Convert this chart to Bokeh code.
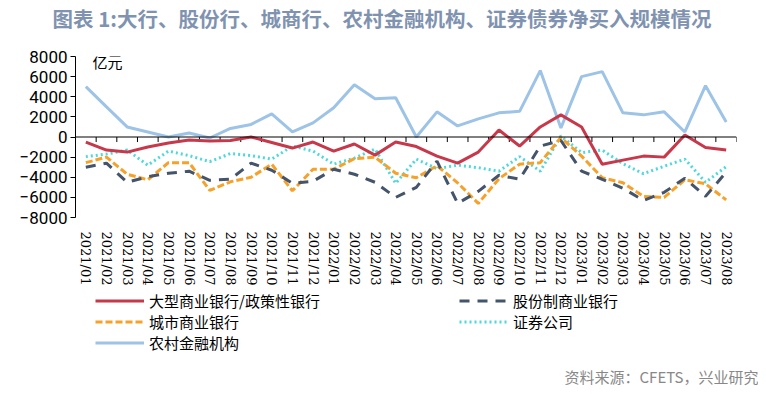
import numpy as np
from bokeh.plotting import figure
from bokeh.layouts import column
from bokeh.models import (Range1d, FixedTicker, Legend, LegendItem, Label, Span, Title)
from bokeh.embed import file_html
from bokeh.resources import INLINE

months = ["2021/01", "2021/02", "2021/03", "2021/04", "2021/05", "2021/06",
          "2021/07", "2021/08", "2021/09", "2021/10", "2021/11", "2021/12",
          "2022/01", "2022/02", "2022/03", "2022/04", "2022/05", "2022/06",
          "2022/07", "2022/08", "2022/09", "2022/10", "2022/11", "2022/12",
          "2023/01", "2023/02", "2023/03", "2023/04", "2023/05", "2023/06",
          "2023/07", "2023/08"]

big_banks = [-500, -1300, -1500, -1000, -600, -300, -400, -350, 0, -550, -1100, -500,
             -1400, -700, -1800, -500, -950, -1900, -2600, -1500, 700, -900, 1000, 2200,
             1000, -2700, -2300, -1900, -2000, 200, -1050, -1300]
joint_stock = [-3000, -2600, -4500, -3950, -3600, -3400, -4300, -4200, -2600, -3300, -4600, -4400,
               -3200, -3700, -4500, -6000, -5000, -2400, -6600, -5400, -3800, -4200, -900, -350,
               -3400, -4200, -5100, -6300, -5500, -4100, -5900, -3500]
city_banks = [-2550, -2000, -3700, -4250, -2550, -2550, -5300, -4450, -4000, -2700, -5350, -3200,
              -3200, -2150, -2000, -3600, -4050, -2850, -4550, -6600, -4150, -2700, -2550, -50,
              -1900, -4050, -4550, -5900, -6000, -4250, -4650, -6250]
securities = [-1950, -1700, -1300, -2800, -1400, -1850, -2450, -1650, -1850, -2200, -900, -1400,
              -2700, -2100, -1200, -4600, -2200, -3150, -2800, -3050, -3400, -1950, -3400, 100,
              -1550, -1300, -2650, -3650, -2900, -2200, -4500, -2950]
rural = [5000, 3000, 1000, 500, 0, 400, -100, 850, 1250, 2300, 500, 1400,
         2900, 5200, 3800, 3900, 0, 2500, 1100, 1800, 2400, 2550, 6600, 900,
         6000, 6500, 2400, 2200, 2500, 500, 5100, 1500]

y_ticks = [-8000, -6000, -4000, -2000, 0, 2000, 4000, 6000, 8000]

series_names = ["大型商业银行/政策性银行", "股份制商业银行", "城市商业银行", "证券公司", "农村金融机构"]
series_colors = ["#C8384B", "#44546A", "#F7A128", "#4DD8DA", "#9DC3E6"]
series_dash = ["solid", "10 8", "7 3", "2 3", "solid"]
title_text = "图表 1:大行、股份行、城商行、农村金融机构、证券债券净买入规模情况"
source_text = "资料来源：CFETS，兴业研究"
unit_text = "亿元"

n = len(months)
xs = np.arange(n) + 0.5
bounds = np.arange(n + 1)
values = [big_banks, joint_stock, city_banks, securities, rural]

W = 758
H1, H2 = 290, 96
BL, BR, BT, BB = 75, 22, 54, 73

p = figure(width=W, height=H1, x_range=Range1d(0, n), y_range=Range1d(-8000, 8000),
           output_backend="svg", toolbar_location=None,
           min_border_left=BL, min_border_right=BR, min_border_top=BT, min_border_bottom=BB)
p.title = None
p.xgrid.visible = False
p.ygrid.visible = False
p.outline_line_color = None
p.background_fill_color = "white"

# spacer between frame and title, then the title itself
p.add_layout(Title(text=" ", text_font_size="2px", standoff=20), "above")
p.add_layout(Title(text=title_text, align="left", text_font="Noto Sans CJK SC",
                   text_font_size="20.5px", text_font_style="bold", text_color="#7F93B0",
                   offset=-23, standoff=0), "above")

xa = p.xaxis[0]
xa.ticker = FixedTicker(ticks=list(xs))
xa.major_label_overrides = {float(x): m for x, m in zip(xs, months)}
xa.major_label_orientation = "vertical"
xa.axis_line_color = None
xa.major_tick_line_color = None
xa.minor_tick_line_color = None
xa.major_label_standoff = 8
xa.major_label_text_font = "DejaVu Serif"
xa.major_label_text_font_size = "13px"
xa.major_label_text_color = "black"

ya = p.yaxis[0]
ya.ticker = FixedTicker(ticks=y_ticks)
ya.major_tick_out = 5
ya.major_tick_in = 0
ya.minor_tick_line_color = None
ya.axis_line_color = "black"
ya.major_tick_line_color = "black"
ya.major_label_text_font = "Roboto"
ya.major_label_text_font_size = "17px"
ya.major_label_text_color = "black"
ya.major_label_standoff = 3

# zero line with category-boundary ticks
p.add_layout(Span(location=0, dimension="width", line_color="black", line_width=1))
tick_len = 500
p.segment(x0=bounds, y0=np.zeros(n + 1), x1=bounds, y1=np.full(n + 1, -tick_len),
          line_color="black", line_width=1)

p.add_layout(Label(x=0.82, y=8500, text=unit_text, text_font="Noto Sans CJK SC",
                   text_font_size="15px", text_baseline="top", text_color="black"))

draw_order = [4, 3, 2, 1, 0]
for i in draw_order:
    p.line(xs, values[i], line_color=series_colors[i], line_width=3, line_dash=series_dash[i])

# legend + source panel (series drawn again, outside its visible range, to feed the legend)
f2 = figure(width=W, height=H2, x_range=Range1d(0, n), y_range=Range1d(100000, 100001),
            output_backend="svg", toolbar_location=None,
            x_axis_location=None, y_axis_location=None,
            min_border_left=BL, min_border_right=BR, min_border_top=0, min_border_bottom=0)
f2.xgrid.visible = False
f2.ygrid.visible = False
f2.outline_line_color = None

items = []
for i in range(len(series_names)):
    r = f2.line(xs, values[i], line_color=series_colors[i], line_width=3, line_dash=series_dash[i])
    items.append(LegendItem(label=series_names[i], renderers=[r]))

legend = Legend(items=items, orientation="horizontal", ncols=2, location=(20, 10),
                glyph_width=49, glyph_height=21, label_height=21, label_width=310,
                label_standoff=5, spacing=0, padding=0, margin=0,
                label_text_font="Noto Sans CJK SC", label_text_font_size="15px",
                label_text_color="black", border_line_color=None, background_fill_alpha=0)
f2.add_layout(legend, "center")

f2.add_layout(Title(text=source_text, align="right", text_font="Noto Sans CJK SC",
                    text_font_size="15px", text_font_style="normal", text_color="#888888",
                    offset=-22, standoff=0), "below")

layout = column(p, f2, spacing=0)
open("out.html", "w").write(file_html(layout, INLINE))
